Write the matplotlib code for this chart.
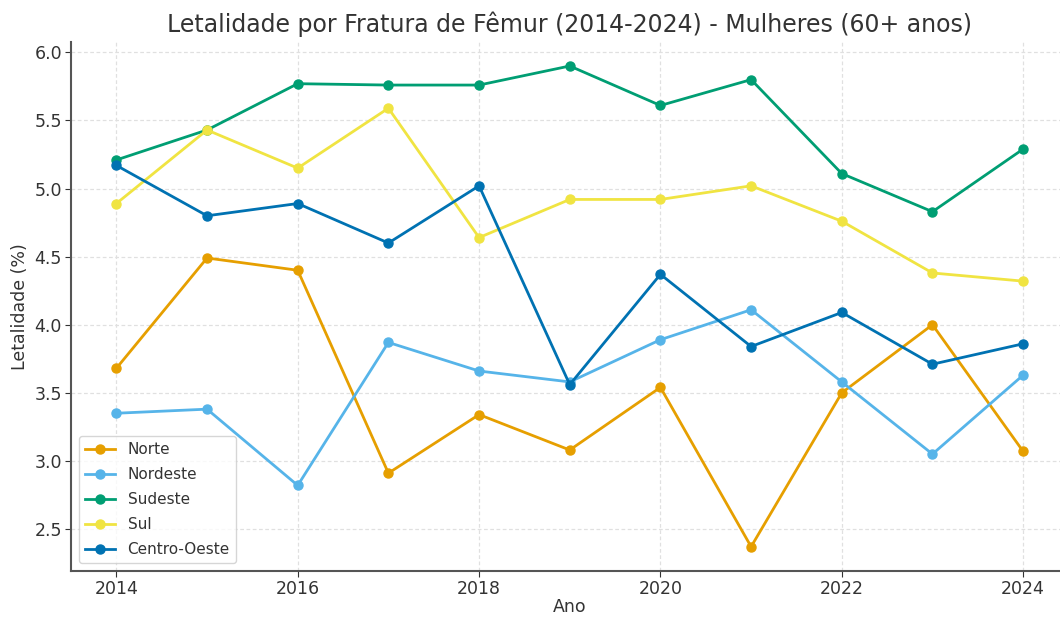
import matplotlib.pyplot as plt

anos = list(range(2014, 2025))
norte = [3.68, 4.49, 4.40, 2.91, 3.34, 3.08, 3.54, 2.37, 3.50, 4.00, 3.07]
nordeste = [3.35, 3.38, 2.82, 3.87, 3.66, 3.58, 3.89, 4.11, 3.58, 3.05, 3.63]
sudeste = [5.21, 5.43, 5.77, 5.76, 5.76, 5.90, 5.61, 5.80, 5.11, 4.83, 5.29]
sul = [4.89, 5.43, 5.15, 5.59, 4.64, 4.92, 4.92, 5.02, 4.76, 4.38, 4.32]
centro_oeste = [5.17, 4.80, 4.89, 4.60, 5.02, 3.56, 4.37, 3.84, 4.09, 3.71, 3.86]

regioes = ['Norte', 'Nordeste', 'Sudeste', 'Sul', 'Centro-Oeste']
series = [norte, nordeste, sudeste, sul, centro_oeste]
cores = ['#E69F00', '#56B4E9', '#009E73', '#F0E442', '#0072B2']

fig = plt.figure(figsize=(10.6, 6.17), dpi=100)
ax = fig.add_axes([0.067, 0.075, 0.941, 0.857])

for nome, vals, cor in zip(regioes, series, cores):
    ax.plot(anos, vals, marker='o', markersize=6.5, linewidth=2, color=cor, label=nome)

ax.set_xlim(2013.5, 2024.5)
ax.set_xticks([2014, 2016, 2018, 2020, 2022, 2024])
ax.grid(True, linestyle=(0, (3, 2)), color='#e0e0e0', linewidth=0.9)
ax.set_axisbelow(True)
for s in ['top', 'right']:
    ax.spines[s].set_visible(False)
for s in ['left', 'bottom']:
    ax.spines[s].set_color('#555555')
    ax.spines[s].set_linewidth(1.5)
ax.tick_params(labelsize=12.5, colors='#333333', length=4, pad=2.5)

ax.set_title('Letalidade por Fratura de Fêmur (2014-2024) - Mulheres (60+ anos)',
             fontsize=17, color='#333333', pad=7)
ax.set_xlabel('Ano', fontsize=12.5, color='#333333', labelpad=0)
ax.set_ylabel('Letalidade (%)', fontsize=12.5, color='#333333')
ax.legend(loc='lower left', fontsize=11, labelcolor='#333333', framealpha=0.8,
          labelspacing=0.65)

fig.savefig('out.png', dpi=100)
